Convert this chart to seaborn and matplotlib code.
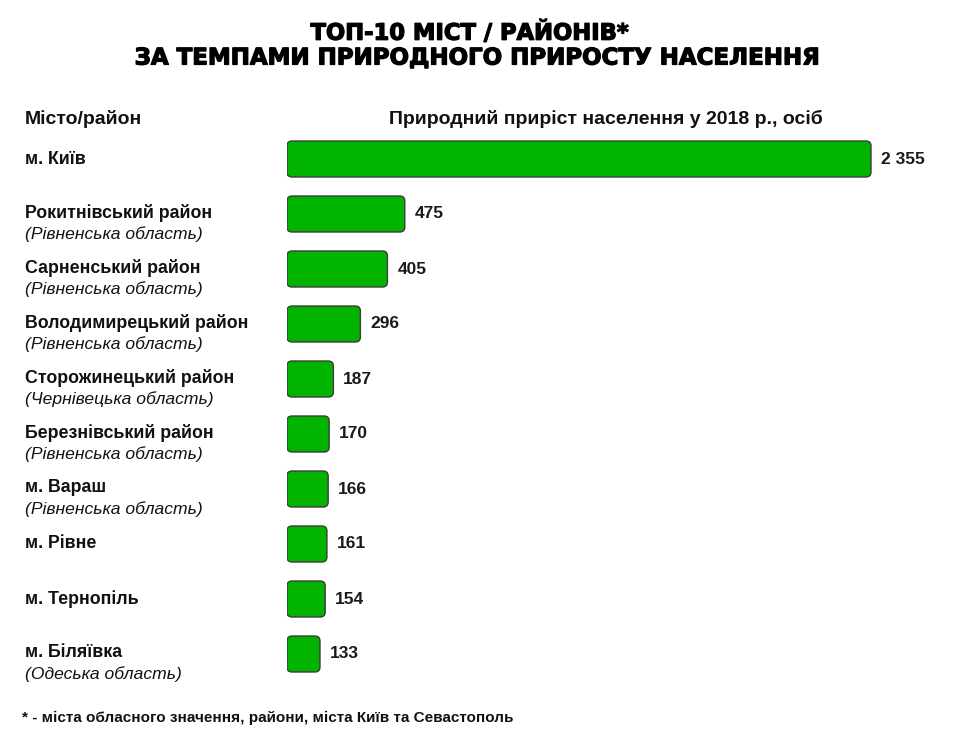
import matplotlib
matplotlib.use("Agg")
import matplotlib.pyplot as plt
import matplotlib.transforms as mtransforms
import matplotlib.patheffects as pe
from matplotlib.patches import FancyBboxPatch
import seaborn as sns
import pandas as pd

# ---- data ----
names = ["м. Київ", "Рокитнівський район", "Сарненський район", "Володимирецький район",
         "Сторожинецький район", "Березнівський район", "м. Вараш", "м. Рівне",
         "м. Тернопіль", "м. Біляївка"]
regions = ["", "(Рівненська область)", "(Рівненська область)", "(Рівненська область)",
           "(Чернівецька область)", "(Рівненська область)", "(Рівненська область)", "",
           "", "(Одеська область)"]
values = [2355, 475, 405, 296, 187, 170, 166, 161, 154, 133]
value_labels = ["2 355", "475", "405", "296", "187", "170", "166", "161", "154", "133"]

title_lines = ["ТОП-10 МІСТ / РАЙОНІВ*", "ЗА ТЕМПАМИ ПРИРОДНОГО ПРИРОСТУ НАСЕЛЕННЯ"]
header_left = "Місто/район"
header_right = "Природний приріст населення у 2018 р., осіб"
footnote = "* - міста обласного значення, райони, міста Київ та Севастополь"

df = pd.DataFrame({"name": names, "value": values})

sns.set_theme(style="white")
plt.rcParams["font.family"] = ["Liberation Sans", "DejaVu Sans"]

W, H = 969, 741
fig = plt.figure(figsize=(W / 100, H / 100), dpi=100)

# axes in pixel geometry
ax_left, ax_right = 287, 960
row0, step = 159, 55
ax_top = row0 - step / 2
ax_bot = row0 + 9 * step + step / 2
ax = fig.add_axes([ax_left / W, 1 - ax_bot / H, (ax_right - ax_left) / W, (ax_bot - ax_top) / H])

px_per_unit = 584 / 2355
green = "#00B400"
sns.barplot(data=df, x="value", y="name", order=names, orient="h", color=green,
            width=36 / 55, ax=ax, saturation=1)
ax.set_xlim(0, (ax_right - ax_left) / px_per_unit)
ax.set_ylim(9.5, -0.5)
ax.set_axis_off()

# replace bars with rounded ones
xpu = px_per_unit
ypu = step
r_px = 5
for p in list(ax.patches):
    x0, y0 = p.get_x(), p.get_y()
    w, h = p.get_width(), p.get_height()
    p.remove()
    fb = FancyBboxPatch((x0, y0), w, h,
                        boxstyle=f"round,pad=0,rounding_size={r_px / xpu}",
                        mutation_aspect=xpu / ypu,
                        facecolor=green, edgecolor="#3c3c3c", linewidth=1.0, zorder=3)
    ax.add_patch(fb)

# value labels
for i, (v, lab) in enumerate(zip(values, value_labels)):
    ax.text(v + 10 / xpu, i, lab, ha="left", va="center", fontsize=12.5,
            fontweight="bold", color="#1a1a1a")

# category labels
bt = mtransforms.blended_transform_factory(fig.transFigure, ax.transData)
off = mtransforms.offset_copy
for i, (n, r) in enumerate(zip(names, regions)):
    if r:
        fig.text(25 / W, i, n, transform=off(bt, fig=fig, y=1, units="points"),
                 ha="left", va="center", fontsize=12.8, fontweight="bold", color="#111111")
        fig.text(25 / W, i, r, transform=off(bt, fig=fig, y=-20 * 0.72, units="points"),
                 ha="left", va="center", fontsize=12.6, fontstyle="italic", color="#111111")
    else:
        fig.text(25 / W, i, n, transform=bt, ha="left", va="center", fontsize=12.8,
                 fontweight="bold", color="#111111")

# headers
fig.text(25 / W, 1 - 119 / H, header_left, ha="left", va="center", fontsize=14,
         fontweight="bold", color="#111111")
fig.text(606 / W, 1 - 119 / H, header_right, ha="center", va="center", fontsize=14,
         fontweight="bold", color="#111111")

# title
heavy = [pe.withStroke(linewidth=0.9, foreground="black")]
fig.text(470 / W, 1 - 33 / H, title_lines[0], ha="center", va="center", fontsize=16.3,
         fontweight="bold", family="DejaVu Sans", color="black", path_effects=heavy)
fig.text(477 / W, 1 - 58 / H, title_lines[1], ha="center", va="center", fontsize=16.5,
         fontweight="bold", family="DejaVu Sans", color="black", path_effects=heavy)

# footnote
fig.text(22 / W, 1 - 718 / H, footnote, ha="left", va="center", fontsize=11,
         fontweight="bold", color="#111111")

fig.savefig("out.png", dpi=100, facecolor="white")
